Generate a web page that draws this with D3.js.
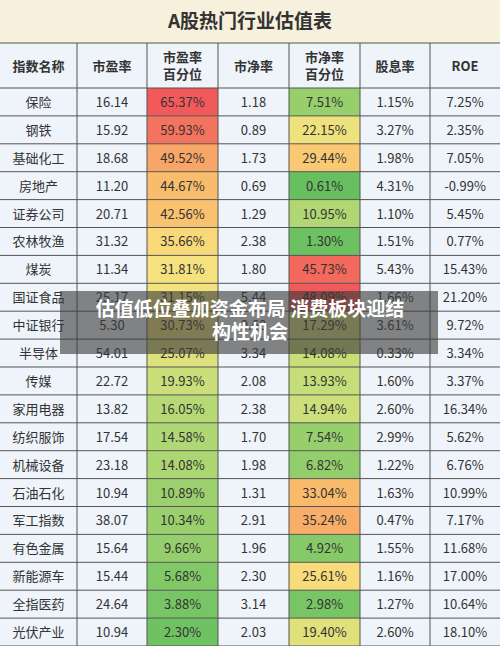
<!DOCTYPE html>
<html><head><meta charset="utf-8">
<script src="https://cdn.jsdelivr.net/npm/d3@7"></script>
<style>body{margin:0;background:#fff}</style>
</head><body>
<svg id="chart" width="500" height="646"></svg>
<script>
var title = "A股热门行业估值表";
var headers = [["指数名称"], ["市盈率"], ["市盈率", "百分位"], ["市净率"], ["市净率", "百分位"], ["股息率"], ["ROE"]];
var names = ["保险","钢铁","基础化工","房地产","证券公司","农林牧渔","煤炭","国证食品","中证银行","半导体","传媒","家用电器","纺织服饰","机械设备","石油石化","军工指数","有色金属","新能源车","全指医药","光伏产业"];
var pe = ["16.14","15.92","18.68","11.20","20.71","31.32","11.34","25.17","5.30","54.01","22.72","13.82","17.54","23.18","10.94","38.07","15.64","15.44","24.64","10.94"];
var pePct = [65.37,59.93,49.52,44.67,42.56,35.66,31.81,31.15,30.73,25.07,19.93,16.05,14.58,14.08,10.89,10.34,9.66,5.68,3.88,2.30];
var pb = ["1.18","0.89","1.73","0.69","1.29","2.38","1.80","5.44","0.60","3.34","2.08","2.38","1.70","1.98","1.31","2.91","1.96","2.30","3.14","2.03"];
var pbPct = [7.51,22.15,29.44,0.61,10.95,1.30,45.73,48.09,17.29,14.08,13.93,14.94,7.54,6.82,33.04,35.24,4.92,25.61,2.98,19.40];
var dy = ["1.15%","3.27%","1.98%","4.31%","1.10%","1.51%","5.43%","1.66%","3.61%","0.33%","1.60%","2.60%","2.99%","1.22%","1.63%","0.47%","1.55%","1.16%","1.27%","2.60%"];
var roe = ["7.25%","2.35%","7.05%","-0.99%","5.45%","0.77%","15.43%","21.20%","9.72%","3.34%","3.37%","16.34%","5.62%","6.76%","10.99%","7.17%","11.68%","17.00%","10.64%","18.10%"];
var overlay = ["估值低位叠加资金布局 消费板块迎结", "构性机会"];

var svg = d3.select("#chart");
var font = "'Noto Sans CJK SC', 'Noto Sans', sans-serif";
var colEdges = [0, 77, 147, 218, 289, 360, 430, 500];
var x = function(i) { return colEdges[i]; };
var headTop = 43, headH = 45, rowH = 27.9;
var y = d3.scaleBand().domain(d3.range(names.length)).range([headTop + headH, headTop + headH + rowH * names.length]);

function pctColor(max) {
  return d3.scaleLinear().domain([0, max * 0.3, max * 0.5, max * 0.7, max])
    .range(["#63be5f", "#c9df7a", "#f8e27e", "#f9b86a", "#f2595b"]).interpolate(d3.interpolateRgb).clamp(true);
}
var peColor = pctColor(65.37), pbColor = pctColor(48.09);

svg.append("rect").attr("width", 500).attr("height", headTop).attr("fill", "#f7f0dc");
svg.append("text").attr("x", 250).attr("y", 28).attr("text-anchor", "middle")
  .attr("font-family", font).attr("font-weight", "bold").attr("font-size", 19).attr("fill", "#333").text(title);

svg.append("rect").attr("y", headTop).attr("width", 500).attr("height", 646 - headTop).attr("fill", "#eef4fa");

// header
headers.forEach(function(h, i) {
  var cx = (x(i) + x(i + 1)) / 2;
  h.forEach(function(t, j) {
    svg.append("text").attr("x", cx).attr("y", headTop + headH / 2 + 5 + (j - (h.length - 1) / 2) * 17)
      .attr("text-anchor", "middle").attr("font-family", font).attr("font-weight", "bold")
      .attr("font-size", 13).attr("fill", "#333").text(t);
  });
});

var rows = names.map(function(n, i) {
  return [n, pe[i], pePct[i].toFixed(2) + "%", pb[i], pbPct[i].toFixed(2) + "%", dy[i], roe[i]];
});

rows.forEach(function(r, i) {
  svg.append("rect").attr("x", x(2)).attr("y", y(i)).attr("width", x(3) - x(2)).attr("height", y.bandwidth()).attr("fill", peColor(pePct[i]));
  svg.append("rect").attr("x", x(4)).attr("y", y(i)).attr("width", x(5) - x(4)).attr("height", y.bandwidth()).attr("fill", pbColor(pbPct[i]));
  r.forEach(function(t, j) {
    svg.append("text").attr("x", (x(j) + x(j + 1)) / 2).attr("y", y(i) + y.bandwidth() / 2 + 5)
      .attr("text-anchor", "middle").attr("font-family", font).attr("font-size", 13).attr("fill", "#333").text(t);
  });
});

// grid lines
var gridBottom = y.range()[1];
colEdges.slice(1, -1).forEach(function(e) {
  svg.append("line").attr("x1", e).attr("x2", e).attr("y1", headTop).attr("y2", gridBottom).attr("stroke", "#555").attr("stroke-width", 1);
});
d3.range(names.length + 1).forEach(function(i) {
  var yy = headTop + headH + rowH * i;
  svg.append("line").attr("x1", 0).attr("x2", 500).attr("y1", yy).attr("y2", yy).attr("stroke", "#555").attr("stroke-width", 1);
});
svg.append("line").attr("x1", 0).attr("x2", 500).attr("y1", headTop).attr("y2", headTop).attr("stroke", "#555");

// overlay caption
svg.append("rect").attr("x", 60).attr("y", 291).attr("width", 378).attr("height", 63).attr("fill", "rgba(60,60,60,0.62)");
overlay.forEach(function(t, j) {
  svg.append("text").attr("x", 250).attr("y", 316 + j * 23).attr("text-anchor", "middle")
    .attr("font-family", font).attr("font-weight", "bold").attr("font-size", 19).attr("fill", "#fff").text(t);
});
</script>
</body></html>
